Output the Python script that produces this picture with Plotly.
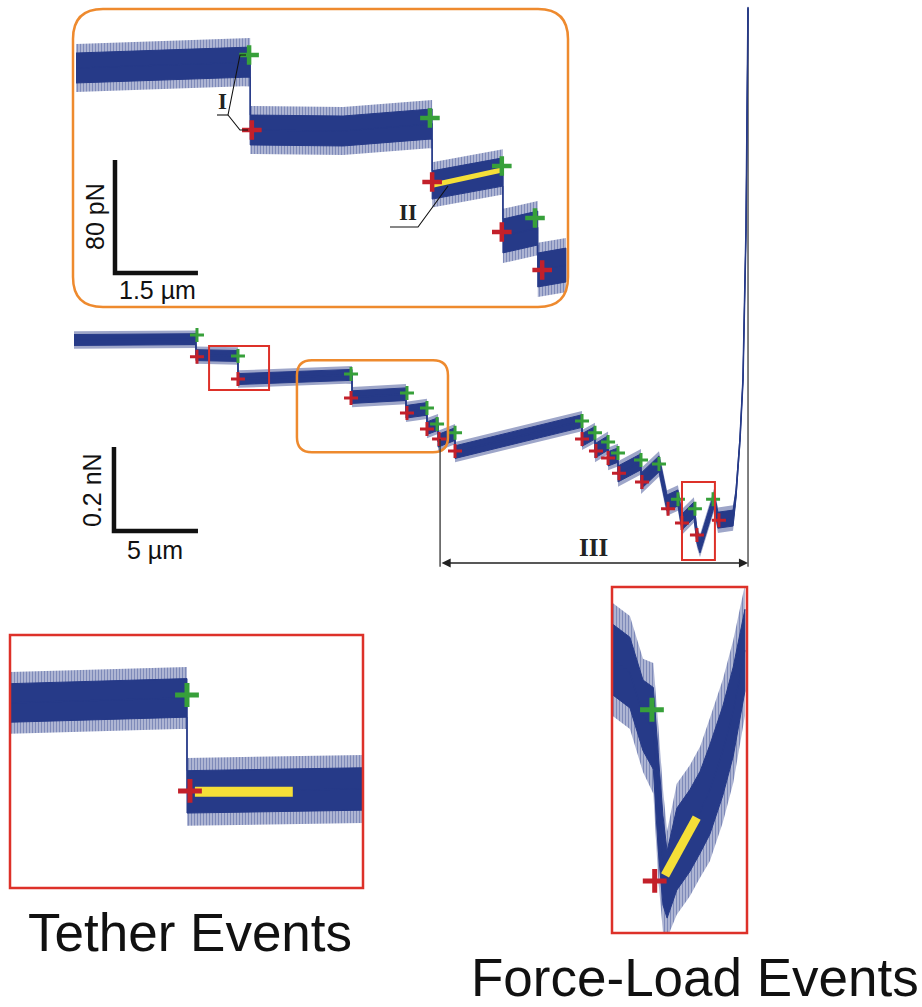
import plotly.graph_objects as go

W, H = 922, 1007

BLUE = "#263a88"
GREEN = "#37a03a"
RED = "#c3202a"
BOX_RED = "#dd3129"
ORANGE = "#ee8a2e"
YELLOW = "#f5df38"
INK = "#111111"
SANS = "Liberation Sans, Arial, sans-serif"
SERIF = "Liberation Serif, Times New Roman, serif"

# ---------------- full retraction curve (µm, nN) ----------------
main_x_um = [0.00, 7.26, 7.26, 9.76, 9.76, 16.55, 16.55, 19.76, 19.76, 21.01,
             21.01, 21.67, 21.67, 22.68, 22.68, 30.24, 30.24, 31.01, 31.01, 31.79,
             31.79, 32.38, 32.38, 33.75, 33.75, 34.82, 35.30, 35.95, 36.19, 36.90,
             37.08, 37.26, 38.10, 38.33, 39.23, 39.40, 39.64, 39.82, 40.00, 40.12]
main_force_nN = [0.000, 0.002, -0.036, -0.038, -0.093, -0.083, -0.136, -0.129, -0.171, -0.164,
                 -0.210, -0.200, -0.240, -0.224, -0.267, -0.193, -0.238, -0.221, -0.264, -0.245,
                 -0.283, -0.274, -0.319, -0.290, -0.336, -0.295, -0.388, -0.376, -0.433, -0.405,
                 -0.467, -0.490, -0.381, -0.429, -0.424, -0.369, -0.238, -0.095, 0.262, 0.790]
main_noise_nN = [0.013, 0.013, 0.013, 0.013, 0.013, 0.013, 0.015, 0.015, 0.015, 0.015,
                 0.015, 0.015, 0.015, 0.015, 0.015, 0.015, 0.015, 0.015, 0.017, 0.017,
                 0.017, 0.017, 0.019, 0.019, 0.019, 0.019, 0.019, 0.019, 0.019, 0.019,
                 0.017, 0.017, 0.017, 0.019, 0.019, 0.011, 0.006, 0.004, 0.003, 0.003]

# rupture onsets (green) and rupture ends (red)
main_onset_x_um = [7.32, 9.76, 16.49, 19.82, 21.01, 21.61, 22.68, 30.24, 31.01, 31.79,
                   32.38, 33.75, 34.82, 35.95, 36.96, 38.04]
main_onset_nN = [0.012, -0.038, -0.081, -0.126, -0.162, -0.200, -0.221, -0.193, -0.221, -0.243,
                 -0.269, -0.286, -0.295, -0.379, -0.402, -0.379]
main_end_x_um = [7.32, 9.76, 16.49, 19.82, 21.01, 21.73, 22.68, 30.24, 31.07, 31.79,
                 32.44, 33.81, 35.36, 36.19, 37.08, 38.39]
main_end_nN = [-0.040, -0.093, -0.138, -0.174, -0.212, -0.236, -0.264, -0.236, -0.264, -0.281,
               -0.317, -0.338, -0.402, -0.436, -0.464, -0.429]

# windows of the main curve shown enlarged
tether_window_um = [8.04, 11.61]
tether_window_nN = [-0.119, -0.014]
load_window_um = [36.19, 38.15]
load_window_nN = [-0.524, -0.338]
detail_window_um = [13.27, 22.26]
detail_window_nN = [-0.267, -0.048]
region_III_um = [21.79, 40.12]

# ---------------- enlarged detail (µm, pN) ----------------
detail_x_um = [0.00, 3.15, 3.15, 4.83, 6.44, 6.44, 7.72, 7.72, 8.35, 8.35, 8.86]
detail_force_pN = [0.0, 4.2, -43.9, -44.6, -39.6, -82.8, -73.6, -118.9, -113.3, -143.0, -139.5]
detail_noise_pN = [10.6, 10.6, 10.6, 10.6, 10.6, 10.0, 10.0, 12.0, 12.0, 12.0, 12.0]
detail_onset_x_um = [3.13, 6.40, 7.70, 8.30]
detail_onset_pN = [9.2, -35.4, -69.4, -106.2]
detail_end_x_um = [3.18, 6.44, 7.70, 8.43]
detail_end_pN = [-43.9, -80.7, -116.1, -143.0]
detail_fit_x_um = [6.46, 7.70]
detail_fit_pN = [-82.8, -72.2]

# ---------------- tether event (µm, nN) ----------------
tether_x_um = [8.04, 9.83, 9.83, 11.61]
tether_force_nN = [-0.0422, -0.0401, -0.0791, -0.0779]
tether_noise_nN = [0.0080, 0.0080, 0.0088, 0.0088]
tether_onset = ([9.83], [-0.0389])
tether_end = ([9.86], [-0.0787])
tether_fit_x_um = [9.91, 10.90]
tether_fit_nN = [-0.0791, -0.0791]

# ---------------- force-load event (µm, nN) ----------------
load_x_um = [36.20, 36.45, 36.64, 36.79, 36.86, 36.93, 36.99, 37.13, 37.32, 37.47,
             37.61, 37.80, 37.95, 38.12]
load_force_nN = [-0.377, -0.384, -0.407, -0.414, -0.453, -0.485, -0.498, -0.479, -0.469, -0.459,
                 -0.447, -0.426, -0.405, -0.372]
load_noise_nN = [0.019, 0.019, 0.019, 0.022, 0.026, 0.024, 0.018, 0.022, 0.022, 0.022,
                 0.024, 0.024, 0.024, 0.022]
load_onset = ([36.77], [-0.404])
load_end = ([36.81], [-0.496])
load_fit_x_um = [36.96, 37.42]
load_fit_nN = [-0.493, -0.462]


def fx(p):
    return p / W


def fy(p):
    return 1 - p / H


def band(x, c, hw, k=1.0):
    xs = list(x) + list(reversed(x))
    up = [a + k * b for a, b in zip(c, hw)]
    lo = [a - k * b for a, b in zip(c, hw)]
    return xs, up + list(reversed(lo))


def rounded_path(x0, x1, y0, y1, rx, ry):
    return (f"M {x0 + rx},{y1} L {x1 - rx},{y1} Q {x1},{y1} {x1},{y1 - ry} "
            f"L {x1},{y0 + ry} Q {x1},{y0} {x1 - rx},{y0} L {x0 + rx},{y0} "
            f"Q {x0},{y0} {x0},{y0 + ry} L {x0},{y1 - ry} Q {x0},{y1} {x0 + rx},{y1} Z")


fig = go.Figure()


def add_trace_panel(xa, ya, x, c, hw, onset, end, fit, msize, mwidth, fitw, linew, hatch):
    # outer fringe of the noisy signal, drawn as vertical hatching
    bx, by = band(x, c, hw, 1.6)
    fig.add_trace(go.Scatter(x=bx, y=by, fill="toself", mode="none",
                             fillcolor="rgba(255,255,255,0)",
                             fillpattern=dict(shape="|", fgcolor="rgba(38,58,136,0.85)",
                                              bgcolor="rgba(38,58,136,0.30)",
                                              size=hatch, solidity=0.5),
                             xaxis=xa, yaxis=ya, hoverinfo="skip"))
    bx, by = band(x, c, hw, 1.0)
    fig.add_trace(go.Scatter(x=bx, y=by, fill="toself", mode="lines",
                             line=dict(color=BLUE, width=1), fillcolor=BLUE,
                             xaxis=xa, yaxis=ya, hoverinfo="skip"))
    fig.add_trace(go.Scatter(x=x, y=c, mode="lines", line=dict(color=BLUE, width=linew),
                             xaxis=xa, yaxis=ya, hoverinfo="skip"))
    if fit is not None:
        fig.add_trace(go.Scatter(x=fit[0], y=fit[1], mode="lines",
                                 line=dict(color=YELLOW, width=fitw),
                                 xaxis=xa, yaxis=ya, hoverinfo="skip"))
    fig.add_trace(go.Scatter(x=onset[0], y=onset[1], mode="markers", cliponaxis=False,
                             marker=dict(symbol="cross-thin", size=msize,
                                         line=dict(width=mwidth, color=GREEN)),
                             xaxis=xa, yaxis=ya, hoverinfo="skip"))
    fig.add_trace(go.Scatter(x=end[0], y=end[1], mode="markers", cliponaxis=False,
                             marker=dict(symbol="cross-thin", size=msize,
                                         line=dict(width=mwidth, color=RED)),
                             xaxis=xa, yaxis=ya, hoverinfo="skip"))


add_trace_panel("x", "y", main_x_um, main_force_nN, main_noise_nN,
                (main_onset_x_um, main_onset_nN), (main_end_x_um, main_end_nN),
                None, 10, 3, 0, 1.6, 2)
add_trace_panel("x2", "y2", detail_x_um, detail_force_pN, detail_noise_pN,
                (detail_onset_x_um, detail_onset_pN), (detail_end_x_um, detail_end_pN),
                (detail_fit_x_um, detail_fit_pN), 14, 4.5, 5, 1.2, 3)
add_trace_panel("x3", "y3", tether_x_um, tether_force_nN, tether_noise_nN,
                tether_onset, tether_end, (tether_fit_x_um, tether_fit_nN), 17, 5, 10, 1.2, 3)
add_trace_panel("x4", "y4", load_x_um, load_force_nN, load_noise_nN,
                load_onset, load_end, (load_fit_x_um, load_fit_nN), 17, 5, 9, 1.2, 3)

# axis scales
MAIN_PPU_X, MAIN_PPU_Y, MAIN_O = 16.8, 420.0, (74, 340)
DET_PPU_X, DET_PPU_Y, DET_O = 55.3, 1.4125, (76, 68)
det_box = (73, 9, 568, 307)
tether_box = (10, 635, 363, 888)
load_box = (612, 587, 747, 933)

hidden = dict(visible=False, fixedrange=True)
fig.update_layout(
    width=W, height=H, margin=dict(l=0, r=0, t=0, b=0),
    paper_bgcolor="white", plot_bgcolor="rgba(0,0,0,0)", showlegend=False,
    xaxis=dict(domain=[0, 1], range=[-MAIN_O[0] / MAIN_PPU_X, (W - MAIN_O[0]) / MAIN_PPU_X], **hidden),
    yaxis=dict(domain=[0, 1], range=[(MAIN_O[1] - H) / MAIN_PPU_Y, MAIN_O[1] / MAIN_PPU_Y], **hidden),
    xaxis2=dict(domain=[fx(det_box[0]), fx(det_box[2])], anchor="y2",
                range=[(det_box[0] - DET_O[0]) / DET_PPU_X, (det_box[2] - DET_O[0]) / DET_PPU_X], **hidden),
    yaxis2=dict(domain=[fy(det_box[3]), fy(det_box[1])], anchor="x2",
                range=[(DET_O[1] - det_box[3]) / DET_PPU_Y, (DET_O[1] - det_box[1]) / DET_PPU_Y], **hidden),
    xaxis3=dict(domain=[fx(tether_box[0]), fx(tether_box[2])], anchor="y3",
                range=tether_window_um, **hidden),
    yaxis3=dict(domain=[fy(tether_box[3]), fy(tether_box[1])], anchor="x3",
                range=tether_window_nN, **hidden),
    xaxis4=dict(domain=[fx(load_box[0]), fx(load_box[2])], anchor="y4",
                range=load_window_um, **hidden),
    yaxis4=dict(domain=[fy(load_box[3]), fy(load_box[1])], anchor="x4",
                range=load_window_nN, **hidden),
)

shapes = []
# zoom windows on the main curve
for wx, wy in ((tether_window_um, tether_window_nN), (load_window_um, load_window_nN)):
    shapes.append(dict(type="rect", xref="x", yref="y", x0=wx[0], x1=wx[1], y0=wy[0], y1=wy[1],
                       line=dict(color=BOX_RED, width=2)))
shapes.append(dict(type="path", xref="x", yref="y",
                   path=rounded_path(detail_window_um[0], detail_window_um[1],
                                     detail_window_nN[0], detail_window_nN[1],
                                     15 / MAIN_PPU_X, 15 / MAIN_PPU_Y),
                   line=dict(color=ORANGE, width=2.5)))
# inset frames
for ax in ("x3", "x4"):
    shapes.append(dict(type="rect", xref=f"{ax} domain", yref=f"y{ax[1]} domain",
                       x0=0, x1=1, y0=0, y1=1, line=dict(color=BOX_RED, width=2.5)))
shapes.append(dict(type="path", xref="paper", yref="paper",
                   path=rounded_path(fx(det_box[0]), fx(det_box[2]), fy(det_box[3]), fy(det_box[1]),
                                     30 / W, 30 / H),
                   line=dict(color=ORANGE, width=2.5)))

# scale bars
sb_x, sb_y = 2.38, -0.455
shapes.append(dict(type="path", xref="x", yref="y",
                   path=f"M {sb_x},{sb_y + 0.2} L {sb_x},{sb_y} L {sb_x + 5},{sb_y}",
                   line=dict(color=INK, width=4.5)))
db_x, db_y = 0.705, -145.1
shapes.append(dict(type="path", xref="x2", yref="y2",
                   path=f"M {db_x},{db_y + 80} L {db_x},{db_y} L {db_x + 1.5},{db_y}",
                   line=dict(color=INK, width=4.5)))

# region III bracket
shapes.append(dict(type="line", xref="x", yref="y", x0=region_III_um[0], x1=region_III_um[0],
                   y0=-0.236, y1=-0.540, line=dict(color="#333333", width=1.3)))
shapes.append(dict(type="line", xref="x", yref="y", x0=region_III_um[1], x1=region_III_um[1],
                   y0=-0.540, y1=0.790, line=dict(color="#555555", width=1.5), layer="below"))


# leader lines for labels I and II
def seg(points):
    d = "M " + " L ".join(f"{fx(a)},{fy(b)}" for a, b in points)
    return dict(type="path", xref="paper", yref="paper", path=d,
                line=dict(color=INK, width=1.1))


shapes.append(seg([(217, 115), (228, 115)]))
shapes.append(seg([(228, 115), (240, 55), (246, 55)]))
shapes.append(seg([(228, 115), (240, 130), (248, 130)]))
shapes.append(seg([(390, 227), (418, 227), (448, 186)]))

fig.update_layout(shapes=shapes)

ann = []
ann.append(dict(x=region_III_um[1], y=-0.531, ax=region_III_um[0], ay=-0.531, xref="x", yref="y",
                axref="x", ayref="y", text="", showarrow=True, arrowhead=2, arrowside="end+start",
                arrowsize=1.3, arrowwidth=1.4, arrowcolor="#222222", standoff=0, startstandoff=0))


def label(text, px, py, size, family=SANS, angle=0, color=INK):
    ann.append(dict(x=fx(px), y=fy(py), xref="paper", yref="paper", text=text, showarrow=False,
                    textangle=angle, font=dict(family=family, size=size, color=color),
                    xanchor="center", yanchor="middle"))


label("80 pN", 95, 217, 25, angle=-90)
label("1.5 µm", 157, 290, 25)
label("0.2 nN", 92, 490, 25, angle=-90)
label("5 µm", 155, 550, 25)
label("<b>I</b>", 222, 101, 23, family=SERIF, color="#222222")
label("<b>II</b>", 408, 212, 23, family=SERIF, color="#222222")
label("<b>III</b>", 593, 547, 25, family=SERIF, color="#222222")
label("Tether Events", 190, 932, 53)
label("Force-Load Events", 695, 977, 53)
fig.update_layout(annotations=ann)

fig.write_html("out.html")
